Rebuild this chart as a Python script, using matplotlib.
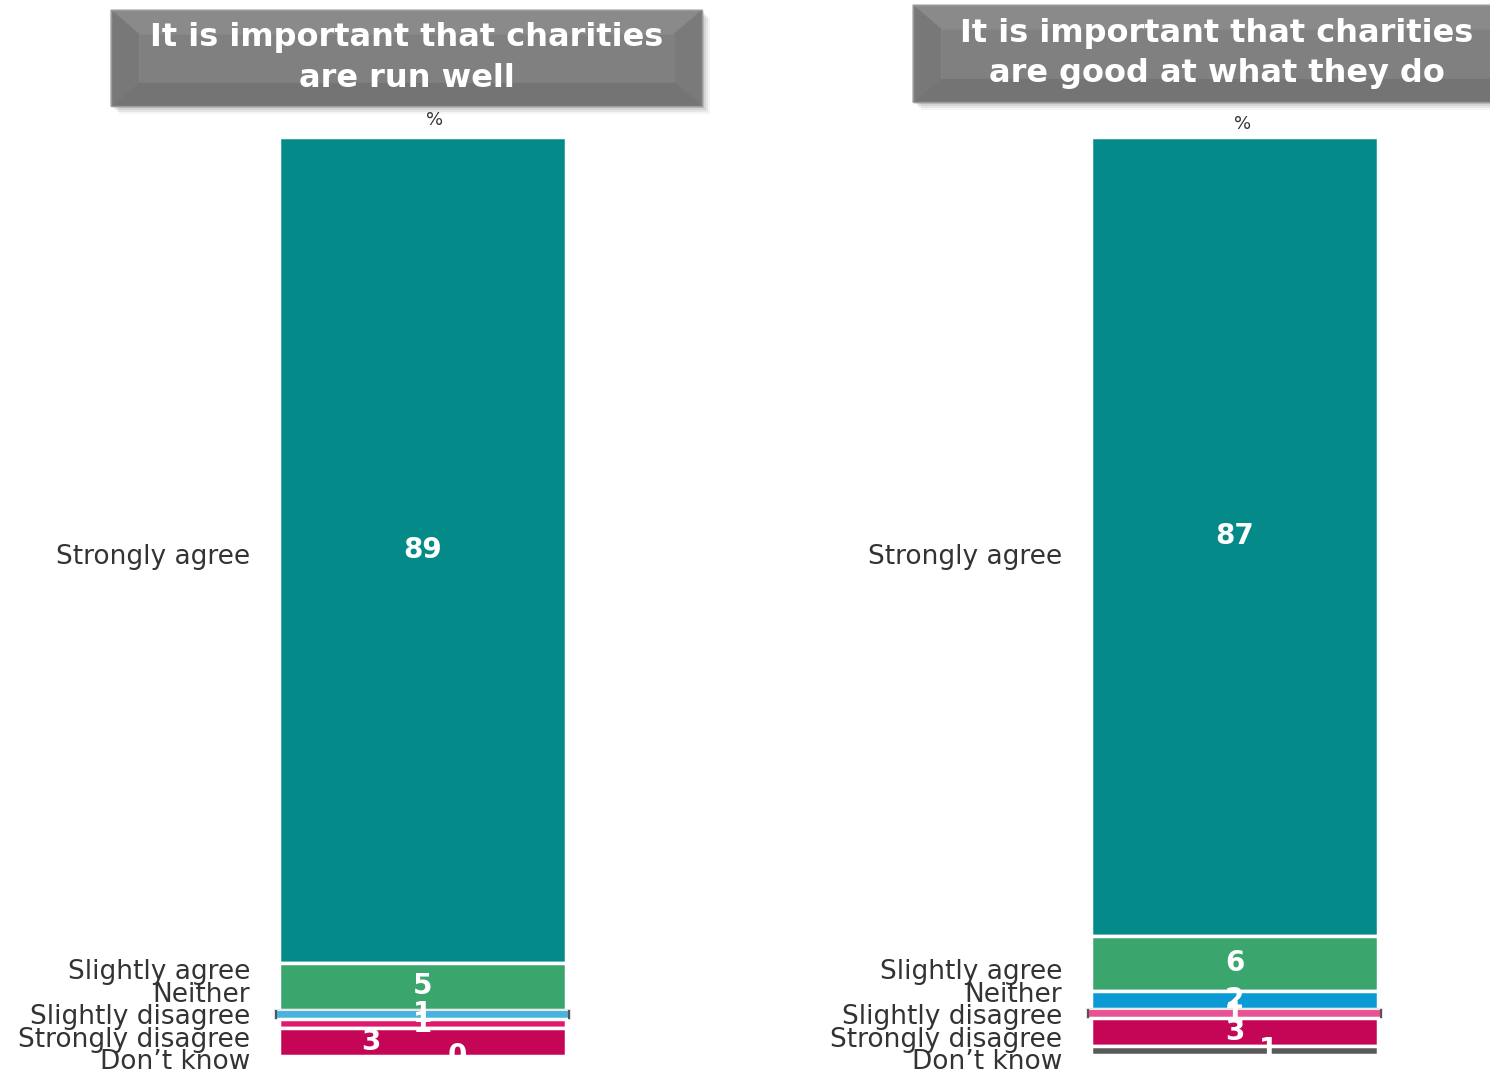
import numpy as np
import matplotlib.pyplot as plt
from matplotlib.colors import to_rgb
from matplotlib.patches import Polygon, Rectangle

# survey answers, top of the bar first
categories = ['Strongly agree', 'Slightly agree', 'Neither',
              'Slightly disagree', 'Strongly disagree', 'Don\u2019t know']
run_well = [89, 5, 1, 1, 3, 0]
good_at = [87, 6, 2, 1, 3, 1]
titles = ['It is important that charities\nare run well',
          'It is important that charities\nare good at what they do']

seg_colors = ['#058A8A', '#3BA56E', '#0B9AD4', '#E0186F', '#C50657', '#595959']

W, H = 1490, 1076
fig = plt.figure(figsize=(W / 100, H / 100), dpi=100)


def fx(px):
    return px / W


def fy(py):
    return 1 - py / H


def title_box(x0, y0, x1, y1, text):
    # drop shadow
    for i, a in enumerate([0.10, 0.08, 0.06, 0.04]):
        d = 2 + i * 2
        fig.patches.append(Rectangle((fx(x0 + d), fy(y1 + d)), fx(x1 - x0), (y1 - y0) / H,
                                     transform=fig.transFigure, color='black', alpha=a,
                                     lw=0, zorder=1))
    ix, iy = 28, 24
    outer = [(x0, y0), (x1, y0), (x1, y1), (x0, y1)]
    inner = [(x0 + ix, y0 + iy), (x1 - ix, y0 + iy), (x1 - ix, y1 - iy), (x0 + ix, y1 - iy)]
    faces = [('#8A8A8A', [outer[0], outer[1], inner[1], inner[0]]),
             ('#7A7A7A', [outer[1], outer[2], inner[2], inner[1]]),
             ('#747474', [outer[2], outer[3], inner[3], inner[2]]),
             ('#787878', [outer[3], outer[0], inner[0], inner[3]]),
             ('#808080', inner)]
    for c, pts in faces:
        fig.patches.append(Polygon([(fx(a), fy(b)) for a, b in pts], closed=True,
                                   transform=fig.transFigure, facecolor=c,
                                   edgecolor=c, lw=0.5, zorder=2))
    fig.patches.append(Rectangle((fx(x0), fy(y1)), fx(x1 - x0), (y1 - y0) / H,
                                 transform=fig.transFigure, fill=False,
                                 edgecolor='#9A9A9A', lw=1, zorder=3))
    fig.text(fx((x0 + x1) / 2), fy((y0 + y1) / 2), text, ha='center', va='center',
             color='white', fontsize=23, fontweight='bold', linespacing=1.38,
             family='DejaVu Sans', zorder=4)


def panel(bar_left, bar_right, top, bottom, ymax, values, label_dx, wide, label_right, pct_xy):
    pad = 9
    ax = fig.add_axes([fx(bar_left - pad), fy(bottom), fx(bar_right - bar_left + 2 * pad),
                       (bottom - top) / H])
    half = (bar_right - bar_left + 2 * pad) / (bar_right - bar_left) / 2
    ax.set_xlim(-half, half)
    ax.set_ylim(ymax, 0)
    ax.axis('off')

    starts = np.concatenate([[0], np.cumsum(values)[:-1]])
    for i, (v, s, c) in enumerate(zip(values, starts, seg_colors)):
        if v == 0:
            continue
        if i == wide:
            # thin slice drawn a touch wider and lighter, with dark end caps
            light = 0.75 * np.array(to_rgb(c)) + 0.25
            ax.bar(0, v, bottom=s, width=1.025, color=light, edgecolor='#E8E8E8', linewidth=1.5)
            for side in (-1, 1):
                ax.plot([side * 0.512] * 2, [s + 0.1, s + v - 0.1], color='#555555', lw=1.5)
        else:
            ax.bar(0, v, bottom=s, width=1, color=c, edgecolor='white', linewidth=2.5)
    for v, s, dx in zip(values, starts, label_dx):
        ax.text(dx, s + v / 2, str(v), ha='center', va='center', color='white',
                fontsize=20, fontweight='bold', clip_on=True)

    # category names: first one beside the big segment, the rest stacked up from the bottom
    fig.text(fx(label_right), fy(557), categories[0],
             ha='right', va='center', fontsize=19, color='#333333')
    for k, name in enumerate(categories[1:]):
        ypx = 1062 - 22.4 * (len(categories) - 2 - k)
        fig.text(fx(label_right), fy(ypx), name, ha='right', va='center',
                 fontsize=19, color='#333333')
    fig.text(fx(pct_xy[0]), fy(pct_xy[1]), '%', ha='center', va='center',
             fontsize=13, color='#333333')
    return ax


title_box(111, 10, 702, 106, titles[0])
title_box(913, 5, 1520, 102, titles[1])

panel(279, 566, 137, 1056, 99, run_well, [0, 0, 0, 0, -0.18, 0.12], 2, 250, (435, 120))
panel(1091, 1378, 137, 1055, 100, good_at, [0, 0, 0, 0, 0, 0.12], 3, 1062, (1243, 124))

fig.savefig('out.png', dpi=100)
